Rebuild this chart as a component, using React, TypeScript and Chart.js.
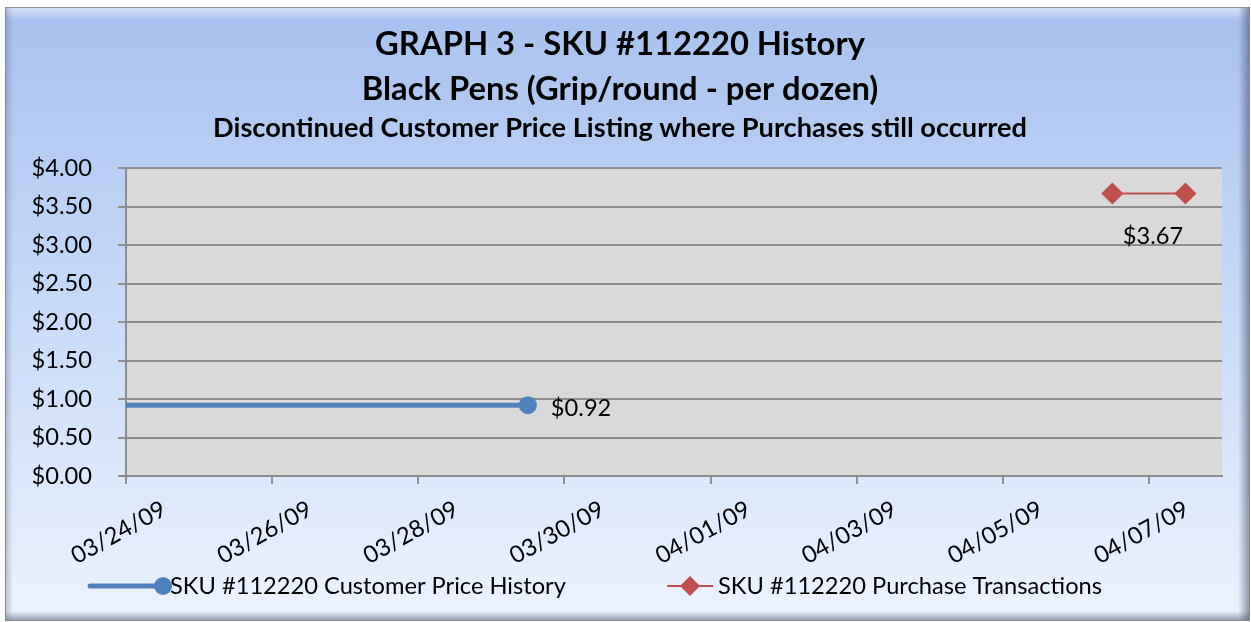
import React, { useEffect, useRef } from 'react';
import { Chart, registerables } from 'chart.js';

Chart.register(...registerables);

// ---------- data ----------
const tickDays = [0, 2, 4, 6, 8, 10, 12, 14]; // day offsets from 03/24/09
const tickLabels = ['03/24/09', '03/26/09', '03/28/09', '03/30/09', '04/01/09', '04/03/09', '04/05/09', '04/07/09'];
const axisMinDay = 0;
const axisMaxDay = 15;
const yMin = 0;
const yMax = 4;
const yStep = 0.5;

// points sit at mid-day of their date (Excel date axis)
const priceHistoryDays = [-3.5, 5.5]; // ... -> 03/29/09 (earlier part clipped off the axis)
const priceHistoryValues = [0.92, 0.92];
const purchaseDays = [13.5, 14.5]; // 04/06/09, 04/07/09
const purchaseValues = [3.67, 3.67];

const seriesLabels = ['SKU #112220 Customer Price History', 'SKU #112220 Purchase Transactions'];
const titleLines = ['GRAPH 3 - SKU #112220 History', 'Black Pens (Grip/round - per dozen)'];
const subtitleText = 'Discontinued Customer Price Listing where Purchases still occurred';

// ---------- styles ----------
const FONT = 'Lato, "Noto Sans", "DejaVu Sans", sans-serif';
const BLUE = '#4f81bd';
const RED = '#c0504d';
const GRID = '#8e8e8e';

function fitSize(text: string, weight: string, targetW: number): number {
  const c = document.createElement('canvas').getContext('2d')!;
  c.font = `${weight} 100px ${FONT}`;
  return (100 * targetW) / c.measureText(text).width;
}

export default function App() {
  const ref = useRef<HTMLCanvasElement | null>(null);

  useEffect(() => {
    document.body.style.margin = '0';
    const canvas = ref.current!;
    const titleSize = fitSize(titleLines[0], 'bold', 490);
    const subSize = fitSize(subtitleText, 'bold', 814);
    const textSize = fitSize(seriesLabels[0], 'normal', 396);
    const xTickSize = fitSize(tickLabels[0], 'normal', 104);

    const framePlugin = {
      id: 'frame',
      beforeDraw(chart: any) {
        const ctx = chart.ctx as CanvasRenderingContext2D;
        const x0 = 5, y0 = 7, x1 = 1250, y1 = 621;
        ctx.save();
        const g = ctx.createLinearGradient(0, y0, 0, y1);
        g.addColorStop(0, '#a7c1ef');
        g.addColorStop(0.45, '#c4d8f8');
        g.addColorStop(1, '#edf3fe');
        ctx.fillStyle = g;
        ctx.fillRect(x0, y0, x1 - x0, y1 - y0);
        const gt = ctx.createLinearGradient(0, y0, 0, y0 + 14);
        gt.addColorStop(0, 'rgba(255,255,255,0.55)');
        gt.addColorStop(1, 'rgba(255,255,255,0)');
        ctx.fillStyle = gt;
        ctx.fillRect(x0, y0, x1 - x0, 14);
        const gr = ctx.createLinearGradient(x1 - 12, 0, x1, 0);
        gr.addColorStop(0, 'rgba(70,80,110,0)');
        gr.addColorStop(1, 'rgba(70,80,110,0.6)');
        ctx.fillStyle = gr;
        ctx.fillRect(x1 - 12, y0, 12, y1 - y0);
        const gb = ctx.createLinearGradient(0, y1 - 10, 0, y1);
        gb.addColorStop(0, 'rgba(70,80,110,0)');
        gb.addColorStop(1, 'rgba(70,80,110,0.55)');
        ctx.fillStyle = gb;
        ctx.fillRect(x0, y1 - 10, x1 - x0, 10);
        const gl = ctx.createLinearGradient(x0, 0, x0 + 8, 0);
        gl.addColorStop(0, 'rgba(90,100,120,0.35)');
        gl.addColorStop(1, 'rgba(90,100,120,0)');
        ctx.fillStyle = gl;
        ctx.fillRect(x0, y0, 8, y1 - y0);
        ctx.strokeStyle = '#8a8a8a';
        ctx.lineWidth = 1;
        ctx.strokeRect(x0 + 0.5, y0 + 0.5, x1 - x0 - 1, y1 - y0 - 1);

        const a = chart.chartArea;
        ctx.fillStyle = '#d9d9d9';
        ctx.fillRect(a.left, a.top, a.right - a.left, a.bottom - a.top);

        ctx.fillStyle = '#000';
        ctx.textAlign = 'center';
        ctx.textBaseline = 'middle';
        ctx.font = `bold ${titleSize}px ${FONT}`;
        ctx.fillText(titleLines[0], 620, 44);
        ctx.fillText(titleLines[1], 620, 89);
        ctx.font = `bold ${subSize}px ${FONT}`;
        ctx.fillText(subtitleText, 620, 128);
        ctx.restore();
      },
      afterDatasetsDraw(chart: any) {
        const ctx = chart.ctx as CanvasRenderingContext2D;
        ctx.save();
        ctx.fillStyle = '#000';
        ctx.font = `${textSize}px ${FONT}`;
        ctx.textBaseline = 'middle';
        const m0 = chart.getDatasetMeta(0).data;
        const p0 = m0[m0.length - 1];
        ctx.textAlign = 'left';
        ctx.fillText('$' + priceHistoryValues[priceHistoryValues.length - 1].toFixed(2), p0.x + 23, p0.y + 3);
        const m1 = chart.getDatasetMeta(1).data;
        const cx = (m1[0].x + m1[m1.length - 1].x) / 2;
        ctx.textAlign = 'center';
        ctx.fillText('$' + purchaseValues[0].toFixed(2), cx + 4, m1[0].y + 43);
        ctx.restore();
      },
      afterDraw(chart: any) {
        const ctx = chart.ctx as CanvasRenderingContext2D;
        const y = 586;
        ctx.save();
        ctx.strokeStyle = BLUE;
        ctx.lineWidth = 5;
        ctx.lineCap = 'round';
        ctx.beginPath();
        ctx.moveTo(90, y);
        ctx.lineTo(163, y);
        ctx.stroke();
        ctx.fillStyle = BLUE;
        ctx.beginPath();
        ctx.arc(163, y, 9, 0, Math.PI * 2);
        ctx.fill();
        ctx.strokeStyle = RED;
        ctx.lineWidth = 2;
        ctx.lineCap = 'butt';
        ctx.beginPath();
        ctx.moveTo(667, y);
        ctx.lineTo(713, y);
        ctx.stroke();
        ctx.fillStyle = RED;
        ctx.beginPath();
        ctx.moveTo(690, y - 10);
        ctx.lineTo(700, y);
        ctx.lineTo(690, y + 10);
        ctx.lineTo(680, y);
        ctx.closePath();
        ctx.fill();
        ctx.fillStyle = '#000';
        ctx.font = `${textSize}px ${FONT}`;
        ctx.textBaseline = 'middle';
        ctx.textAlign = 'left';
        ctx.fillText(seriesLabels[0], 170, y);
        ctx.fillText(seriesLabels[1], 718, y);
        ctx.restore();
      },
    };

    const chart = new Chart(canvas, {
      type: 'line',
      data: {
        datasets: [
          {
            label: seriesLabels[0],
            data: priceHistoryDays.map((d, i) => ({ x: d, y: priceHistoryValues[i] })),
            borderColor: BLUE,
            backgroundColor: BLUE,
            borderWidth: 5,
            pointRadius: priceHistoryDays.map((d, i) => (i === priceHistoryDays.length - 1 ? 9 : 0)),
            pointBorderWidth: 0,
            pointStyle: 'circle',
            clip: 0,
          } as any,
          {
            label: seriesLabels[1],
            data: purchaseDays.map((d, i) => ({ x: d, y: purchaseValues[i] })),
            borderColor: RED,
            backgroundColor: RED,
            borderWidth: 2,
            pointRadius: 11,
            pointBorderWidth: 0,
            pointStyle: 'rectRot',
            clip: false,
          } as any,
        ],
      },
      options: {
        animation: false,
        responsive: false,
        devicePixelRatio: 1,
        layout: { padding: { left: 33, right: 29, top: 168, bottom: 56 } },
        plugins: {
          legend: { display: false },
          title: { display: false },
          tooltip: { enabled: false },
        },
        scales: {
          x: {
            type: 'linear',
            min: axisMinDay,
            max: axisMaxDay,
            afterBuildTicks: (s: any) => {
              s.ticks = tickDays.map((v) => ({ value: v }));
            },
            afterFit: (s: any) => {
              s.paddingLeft = 0;
              s.paddingRight = 0;
              s.height = 90;
            },
            ticks: {
              autoSkip: false,
              minRotation: 29,
              maxRotation: 29,
              labelOffset: 38,
              padding: 11,
              color: '#000',
              font: { family: FONT, size: xTickSize },
              callback: (v: any) => {
                const i = tickDays.indexOf(Number(v));
                return i >= 0 ? tickLabels[i] : '';
              },
            },
            grid: { drawOnChartArea: false, drawTicks: true, tickLength: 8, color: GRID, lineWidth: 2 },
            border: { display: true, color: GRID, width: 2 },
          },
          y: {
            min: yMin,
            max: yMax,
            afterFit: (s: any) => {
              s.paddingTop = 0;
              s.paddingBottom = 0;
              s.width = 93;
            },
            ticks: {
              stepSize: yStep,
              padding: 26,
              color: '#000',
              font: { family: FONT, size: textSize },
              callback: (v: any) => '$' + Number(v).toFixed(2),
            },
            grid: { color: GRID, lineWidth: 2, tickLength: 8, drawTicks: true },
            border: { display: true, color: GRID, width: 2 },
          },
        },
      } as any,
      plugins: [framePlugin],
    });
    return () => chart.destroy();
  }, []);

  return (
    <div style={{ width: 1251, height: 622 }}>
      <canvas ref={ref} width={1251} height={622} style={{ display: 'block' }} />
    </div>
  );
}
